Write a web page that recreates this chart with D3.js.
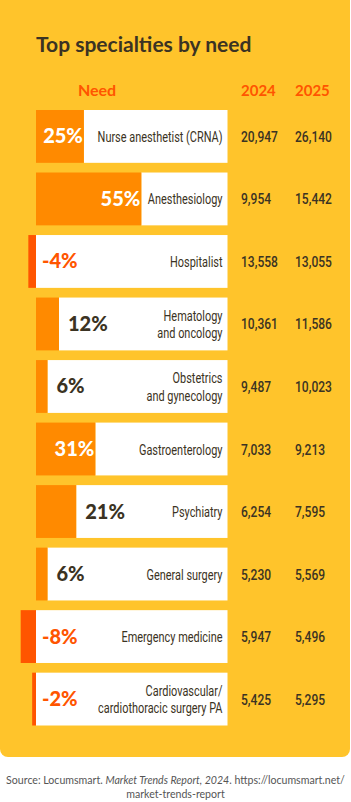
<!DOCTYPE html>
<html>
<head>
<meta charset="utf-8">
<script src="https://cdn.jsdelivr.net/npm/d3@7"></script>
<style>
  body { margin: 0; background: #fff; }
  svg { display: block; }
</style>
</head>
<body>
<svg width="351" height="802" id="mainsvg"></svg>
<script>
  const categories = ['Nurse anesthetist (CRNA)', 'Anesthesiology', 'Hospitalist', 'Hematology|and oncology',
    'Obstetrics|and gynecology', 'Gastroenterology', 'Psychiatry', 'General surgery',
    'Emergency medicine', 'Cardiovascular/|cardiothoracic surgery PA'];
  const need = [25, 55, -4, 12, 6, 31, 21, 6, -8, -2];
  const v2024 = [20947, 9954, 13558, 10361, 9487, 7033, 6254, 5230, 5947, 5425];
  const v2025 = [26140, 15442, 13055, 11586, 10023, 9213, 7595, 5569, 5496, 5295];
  const years = ['2024', '2025'];

  const yellow = '#ffc42b', orange = '#ff8a00', red = '#ff5500', dark = '#3b3323';
  const cond = "Roboto, sans-serif";
  const bold = "Lato, 'Open Sans', sans-serif";

  const svg = d3.select('#mainsvg');
  const fmt = d3.format(',');

  // squeeze factors so Roboto looks like the condensed face of the original
  function widthOf(str, size, weight) {
    const t = svg.append('text').text(str)
      .attr('font-family', cond).attr('font-size', size).attr('font-weight', weight);
    const w = t.node().getComputedTextLength();
    t.remove();
    return w;
  }
  const sxLabel = 125 / widthOf('Nurse anesthetist (CRNA)', 15, 400);
  const sxValue = 37 / widthOf('20,947', 14.5, 500);

  // card
  svg.append('rect')
    .attr('x', 0).attr('y', -8)
    .attr('width', 350).attr('height', 765)
    .attr('rx', 8).attr('fill', yellow);

  svg.append('text').text('Top specialties by need')
    .attr('x', 36).attr('y', 52)
    .attr('font-family', bold).attr('font-weight', 700)
    .attr('font-size', 21).attr('fill', dark);

  const x = d3.scaleLinear().domain([0, 100]).range([36, 227.5]);
  const y = d3.scaleBand().domain(d3.range(categories.length))
    .range([110, 725.5]).paddingInner(0.155).paddingOuter(0);

  const colX = [241, 295];

  // headers
  svg.append('text').text('Need')
    .attr('x', 97).attr('y', 96).attr('text-anchor', 'middle')
    .attr('font-family', bold).attr('font-weight', 700)
    .attr('font-size', 16).attr('fill', red);
  years.forEach((yr, j) => {
    svg.append('text').text(yr)
      .attr('x', colX[j]).attr('y', 96)
      .attr('font-family', bold).attr('font-weight', 700)
      .attr('font-size', 15).attr('fill', red);
  });

  const rows = svg.selectAll('g.row').data(categories).join('g')
    .attr('class', 'row')
    .attr('transform', (d, i) => `translate(0, ${y(i)})`);

  const h = y.bandwidth();

  // white label box
  rows.append('rect')
    .attr('x', (d, i) => x(Math.max(0, need[i])))
    .attr('width', (d, i) => x(100) - x(Math.max(0, need[i])))
    .attr('height', h).attr('fill', '#fff');

  // need bar
  rows.append('rect')
    .attr('x', (d, i) => x(Math.min(0, need[i])))
    .attr('width', (d, i) => Math.abs(x(need[i]) - x(0)))
    .attr('height', h)
    .attr('fill', (d, i) => need[i] < 0 ? red : orange);

  // percent label
  rows.append('text')
    .text((d, i) => need[i] + '%')
    .attr('x', (d, i) => need[i] < 0 ? x(0) + 6 : need[i] >= 25 ? x(need[i]) - 1 : x(need[i]) + 9)
    .attr('text-anchor', (d, i) => need[i] >= 25 ? 'end' : 'start')
    .attr('y', h / 2 + 7)
    .attr('font-family', bold).attr('font-weight', 900)
    .attr('font-size', 20)
    .attr('fill', (d, i) => need[i] < 0 ? red : need[i] >= 25 ? '#fff' : dark);

  // category label
  rows.each(function (d) {
    const lines = d.split('|');
    lines.forEach((ln, k) => {
      const yy = h / 2 + 5.5 + (k - (lines.length - 1) / 2) * 17.5;
      d3.select(this).append('text').text(ln)
        .attr('text-anchor', 'end')
        .attr('transform', `translate(222.5, ${yy}) scale(${sxLabel}, 1)`)
        .attr('font-family', cond).attr('font-size', 15)
        .attr('fill', dark);
    });
  });

  // values
  [v2024, v2025].forEach((vals, j) => {
    rows.append('text')
      .text((d, i) => fmt(vals[i]))
      .attr('transform', `translate(${colX[j]}, ${h / 2 + 5.5}) scale(${sxValue}, 1)`)
      .attr('font-family', cond).attr('font-weight', 500)
      .attr('font-size', 14.5).attr('fill', dark);
  });

  // source
  const src = svg.append('text')
    .attr('x', 175.5).attr('y', 784).attr('text-anchor', 'middle')
    .attr('font-family', bold).attr('font-size', 10.6).attr('fill', '#555');
  src.append('tspan').text('Source: Locumsmart. ');
  src.append('tspan').text('Market Trends Report, 2024').attr('font-style', 'italic');
  src.append('tspan').text('. https://locumsmart.net/');
  svg.append('text').text('market-trends-report')
    .attr('x', 175.5).attr('y', 798).attr('text-anchor', 'middle')
    .attr('font-family', bold).attr('font-size', 10.6).attr('fill', '#555');
</script>
</body>
</html>
